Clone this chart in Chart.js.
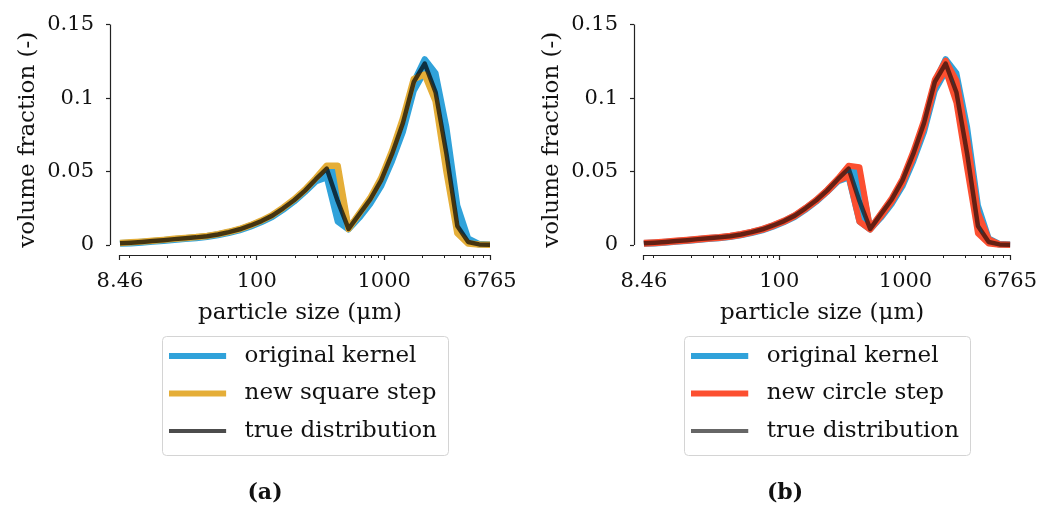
<!DOCTYPE html>
<html><head><meta charset="utf-8">
<script src="https://cdn.jsdelivr.net/npm/chart.js@4"></script>
<style>
html,body{margin:0;padding:0;background:#fff;overflow:hidden;width:1041px;height:510px;}
#wrap{position:relative;width:1041px;height:510px;overflow:hidden;background:#fff;}
canvas{position:absolute;top:0;}
#ca{left:0;} #cb{left:524px;}
</style></head><body>
<div id="wrap"><canvas id="ca" width="530" height="510"></canvas><canvas id="cb" width="522" height="510"></canvas></div>
<script>
// ---- data ----
const sizes = [8.46, 10.30, 12.53, 15.26, 18.57, 22.61, 27.52, 33.50, 40.78, 49.64, 60.42, 73.54, 89.52, 108.97, 132.64, 161.46, 196.53, 239.23, 291.20, 354.46, 431.47, 525.20, 639.30, 778.2, 947.2, 1153.0, 1403.5, 1708.4, 2079.5, 2531.3, 3081.2, 3750.5, 4565.3, 5557.1, 6765];
const trueDist = [0.0012,0.0016,0.0021,0.0027,0.0033,0.0040,0.0046,0.0052,0.0060,0.0072,0.0088,0.0107,0.0133,0.0163,0.0200,0.0250,0.0305,0.0370,0.0448,0.0520,0.0300,0.0110,0.0210,0.0310,0.0440,0.0620,0.0830,0.1110,0.1235,0.1040,0.0620,0.0130,0.0020,0.0004,0.0002];
const origKernelLo = [0.0008,0.0011,0.0016,0.0022,0.0028,0.0034,0.0040,0.0046,0.0054,0.0066,0.0081,0.0100,0.0125,0.0155,0.0190,0.0240,0.0295,0.0360,0.0432,0.0460,0.0160,0.0105,0.0185,0.0280,0.0400,0.0570,0.0770,0.1050,0.1180,0.1030,0.0610,0.0125,0.0018,0.0003,0.0001];
const origKernelHi = [0.0013,0.0017,0.0022,0.0028,0.0034,0.0041,0.0047,0.0053,0.0061,0.0073,0.0089,0.0108,0.0134,0.0164,0.0201,0.0251,0.0306,0.0372,0.0449,0.0500,0.0500,0.0112,0.0210,0.0310,0.0440,0.0620,0.0830,0.1110,0.1265,0.1170,0.0800,0.0270,0.0045,0.0008,0.0003];
const squareStep = [0.0014,0.0018,0.0023,0.0029,0.0035,0.0042,0.0048,0.0054,0.0062,0.0074,0.0090,0.0109,0.0135,0.0166,0.0204,0.0254,0.0310,0.0376,0.0455,0.0540,0.0540,0.0110,0.0215,0.0320,0.0455,0.0640,0.0860,0.1130,0.1160,0.0980,0.0500,0.0080,0.0010,0.0003,0.0002];
const circleStepLo = [0.0008,0.0012,0.0017,0.0023,0.0029,0.0036,0.0042,0.0048,0.0056,0.0068,0.0084,0.0103,0.0129,0.0158,0.0195,0.0245,0.0299,0.0362,0.0438,0.0470,0.0160,0.0105,0.0195,0.0295,0.0420,0.0595,0.0800,0.1080,0.1190,0.0970,0.0520,0.0080,0.0010,0.0002,0.0001];
const circleStepHi = [0.0015,0.0019,0.0024,0.0030,0.0036,0.0043,0.0049,0.0055,0.0063,0.0075,0.0091,0.0110,0.0136,0.0166,0.0203,0.0253,0.0308,0.0375,0.0452,0.0540,0.0530,0.0112,0.0215,0.0318,0.0450,0.0635,0.0850,0.1125,0.1255,0.1120,0.0720,0.0220,0.0040,0.0006,0.0002];

const xMajorTicks = [8.46, 100, 1000, 6765];
const xMajorLabels = ['8.46', '100', '1000', '6765'];
const xMinorTicks = [10,20,30,40,50,60,70,80,90,200,300,400,500,600,700,800,900,2000,3000,4000,5000,6000];
const yTicks = [0, 0.05, 0.1, 0.15];
const yTickLabels = ['0', '0.05', '0.1', '0.15'];

const xTitle = 'particle size (μm)';
const yTitle = 'volume fraction (-)';

// ---- style ----
const FONT = 'DejaVu Serif';
const TXT = '#111';
const AX = '#222';
const BLUE = '#30a2da', ORANGE = '#e5ae38', RED = '#fc4f30';
Chart.defaults.font.family = FONT;

function pts(vals){ return sizes.map((s,i)=>({x:s, y:vals[i]})); }

function swatch(color, w){
  const c = document.createElement('canvas'); c.width = 64; c.height = 8;
  const g = c.getContext('2d'); g.strokeStyle = color; g.lineWidth = w;
  g.beginPath(); g.moveTo(0,4); g.lineTo(57,4); g.stroke();
  return c;
}

function alignPx(v){ return Math.round(v) + 0.5; }

const spines = {
  id:'spines',
  afterDraw(chart){
    const {ctx, chartArea:a, scales} = chart; const x = scales.x, y = scales.y;
    ctx.save(); ctx.strokeStyle = AX; ctx.lineWidth = 1.2; ctx.beginPath();
    const sx = alignPx(a.left), sy = alignPx(a.bottom);
    ctx.moveTo(sx, y.getPixelForValue(yTicks[yTicks.length-1]));
    ctx.lineTo(sx, y.getPixelForValue(yTicks[0]));
    ctx.moveTo(x.getPixelForValue(xMajorTicks[0]), sy);
    ctx.lineTo(x.getPixelForValue(xMajorTicks[xMajorTicks.length-1]), sy);
    ctx.stroke(); ctx.restore();
  }
};

const legendBox = {
  id:'legendBox',
  afterLayout(chart){
    const lg = chart.legend; if (!lg || !lg.lineWidths) return;
    const x = chart.scales.x;
    const pad = lg.options.labels.padding;
    const maxW = Math.max(...lg.lineWidths) - pad;
    const boxW = 7 + maxW + 11;
    const center = (x.getPixelForValue(xMajorTicks[0]) + x.getPixelForValue(xMajorTicks[xMajorTicks.length-1]))/2;
    const boxL = center - boxW/2;
    lg.left = boxL + 7 - pad;
    lg.right = lg.left + boxW + 2*pad;
    lg.width = lg.right - lg.left;
    lg._boxL = boxL; lg._boxW = boxW;
  },
  afterDraw(chart){
    const lg = chart.legend; if (!lg || lg._boxL === undefined) return;
    const ctx = chart.ctx; ctx.save();
    ctx.strokeStyle = '#d4d4d4'; ctx.lineWidth = 1;
    ctx.beginPath();
    ctx.roundRect(Math.round(lg._boxL)+0.5, Math.round(lg.top + 6)+0.5, Math.round(lg._boxW), 119, 4);
    ctx.stroke(); ctx.restore();
  }
};

function makeChart(id, caption, datasets, legendItems, rightGap){
  return new Chart(document.getElementById(id), {
    type:'line',
    data:{ datasets },
    plugins:[spines, legendBox],
    options:{
      responsive:false, animation:false, devicePixelRatio:1,
      layout:{ padding:{ top:24, left:0, right:0, bottom:3.6 } },
      elements:{ point:{ radius:0, hoverRadius:0 }, line:{ tension:0, borderJoinStyle:'round', borderCapStyle:'butt' } },
      scales:{
        x2:{ type:'logarithmic', position:'bottom', weight:-1, min:7.063, max:6765,
          afterBuildTicks: s => { s.ticks = xMinorTicks.map(v=>({value:v})); },
          afterFit: s => { s.height = 0; },
          ticks:{ display:false, autoSkip:false },
          grid:{ drawOnChartArea:false, drawTicks:true, tickLength:3, tickColor:AX, tickWidth:1 },
          border:{ display:false }, title:{ display:false } },
        x:{ type:'logarithmic', position:'bottom', weight:0, min:7.063, max:6765,
          afterBuildTicks: s => { s.ticks = xMajorTicks.map(v=>({value:v})); },
          afterFit: s => { s.height = 75; },
          ticks:{ callback:(v,i)=>xMajorLabels[i], font:{ family:FONT, size:21 }, color:TXT, padding:9, maxRotation:0, autoSkip:false },
          grid:{ drawOnChartArea:false, drawTicks:true, tickLength:5, tickColor:AX, tickWidth:1.2 },
          border:{ display:false },
          title:{ display:true, text:xTitle, font:{ family:FONT, size:23 }, color:TXT, padding:{ top:0, bottom:3 } } },
        y:{ type:'linear', position:'left', min:-0.0068, max:0.15,
          afterBuildTicks: s => { s.ticks = yTicks.map(v=>({value:v})); },
          afterFit: s => { s.width = 110; },
          ticks:{ callback:(v,i)=>yTickLabels[i], font:{ family:FONT, size:21 }, color:TXT, padding:12 },
          grid:{ drawOnChartArea:false, drawTicks:true, tickLength:4, tickColor:AX, tickWidth:1.2 },
          border:{ display:false },
          title:{ display:true, text:yTitle, font:{ family:FONT, size:23 }, color:TXT, padding:{ top:14, bottom:0 } } },
        yGap:{ type:'linear', position:'right', min:0, max:1,
          afterFit: s => { s.width = rightGap; },
          ticks:{ display:false }, grid:{ display:false, drawTicks:false }, border:{ display:false }, title:{ display:false } }
      },
      plugins:{
        tooltip:{ enabled:false },
        legend:{ display:true, position:'bottom', align:'start', onClick:()=>{},
          labels:{ usePointStyle:true, pointStyleWidth:64, padding:14.5, color:TXT, font:{ family:FONT, size:23 },
            generateLabels: () => legendItems.map((it,i)=>({ text:it.text, pointStyle:swatch(it.color, it.w), fillStyle:it.color, strokeStyle:it.color, lineWidth:0, fontColor:TXT, hidden:false, datasetIndex:i })) } },
        title:{ display:true, position:'bottom', text:caption, color:TXT, font:{ family:FONT, size:22, weight:'bold' }, padding:{ top:27.5, bottom:0 } }
      }
    }
  });
}

function ds(label, vals, color, w, order, fill){
  return { label, data:pts(vals), xAxisID:'x', yAxisID:'y', borderColor:color, backgroundColor:color, borderWidth:w, order, fill: fill === undefined ? false : fill, pointRadius:0 };
}

makeChart('ca', '(a)', [
  ds('original kernel (low)', origKernelLo, BLUE, 6, 3),
  ds('original kernel', origKernelHi, BLUE, 6, 3, '-1'),
  ds('new square step', squareStep, ORANGE, 6.5, 1),
  ds('true distribution', trueDist, 'rgba(0,0,0,0.7)', 4.5, 0)
], [
  { text:'original kernel', color:BLUE, w:6 },
  { text:'new square step', color:ORANGE, w:6 },
  { text:'true distribution', color:'rgba(0,0,0,0.7)', w:4 }
], 40);

makeChart('cb', '(b)', [
  ds('original kernel (low)', origKernelLo, BLUE, 6, 3),
  ds('original kernel', origKernelHi, BLUE, 6, 3, '-1'),
  ds('new circle step (low)', circleStepLo, RED, 6, 1),
  ds('new circle step', circleStepHi, RED, 6, 1),
  ds('true distribution', trueDist, 'rgba(0,0,0,0.6)', 4.5, 0)
], [
  { text:'original kernel', color:BLUE, w:6 },
  { text:'new circle step', color:RED, w:6 },
  { text:'true distribution', color:'rgba(0,0,0,0.6)', w:4 }
], 32);
</script>
</body></html>
